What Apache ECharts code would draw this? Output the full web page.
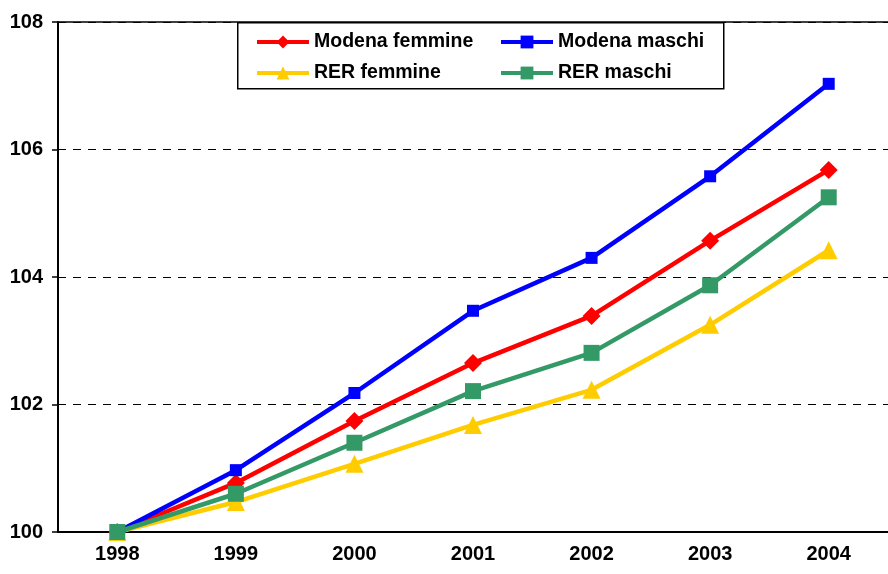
<!DOCTYPE html>
<html><head><meta charset="utf-8">
<script src="https://cdn.jsdelivr.net/npm/echarts@6/dist/echarts.min.js"></script>
<style>html,body{margin:0;padding:0;background:#fff}#c{width:888px;height:574px}</style>
</head><body><div id="c"></div>
<script>
const years = ['1998','1999','2000','2001','2002','2003','2004'];
const modenaFemmine = [100, 100.77, 101.74, 102.65, 103.39, 104.57, 105.68];
const modenaMaschi  = [100, 100.97, 102.18, 103.47, 104.30, 105.58, 107.03];
const rerFemmine    = [100, 100.47, 101.07, 101.68, 102.23, 103.25, 104.42];
const rerMaschi     = [100, 100.60, 101.40, 102.21, 102.81, 103.87, 105.25];
const yTicks = [100, 102, 104, 106, 108];

const font = 'Liberation Sans, Arial, sans-serif';
const chart = echarts.init(document.getElementById('c'));
function s(name, data, color, symbol, size) {
  return {name, type:'line', data, symbol, symbolSize:size, showSymbol:true,
    lineStyle:{color, width:4.5}, itemStyle:{color}, z: 3};
}
const legText = {fontFamily:font, fontWeight:'bold', fontSize:19.5, color:'#000'};
chart.setOption({
  animation:false,
  grid:{left:58, right:0, top:22, bottom:42},
  xAxis:[{type:'category', data:years, boundaryGap:true,
    axisLine:{lineStyle:{color:'#000', width:2}},
    axisTick:{inside:true, length:6, lineStyle:{color:'#000', width:1.5}},
    axisLabel:{color:'#000', fontFamily:font, fontWeight:'bold', fontSize:20, margin:12}},
   {type:'category', data:years, position:'top', axisLine:{show:true, lineStyle:{color:'#000', width:1.5}},
    axisTick:{show:false}, axisLabel:{show:false}}],
  yAxis:{type:'value', min:yTicks[0], max:yTicks[yTicks.length-1], interval:2,
    axisLine:{show:true, lineStyle:{color:'#000', width:2}},
    axisTick:{show:true, length:6, lineStyle:{color:'#000', width:1.5}},
    axisLabel:{color:'#000', fontFamily:font, fontWeight:'bold', fontSize:20, margin:15},
    splitLine:{show:true, lineStyle:{color:'#000', type:[8,7], width:1}}},
  legend:[{data:['Modena femmine','RER femmine'], orient:'vertical', left:250, top:27, itemGap:11,
     itemWidth:52, itemHeight:16, z:20, lineStyle:{width:4}, textStyle:legText},
    {data:['Modena maschi','RER maschi'], orient:'vertical', left:494, top:27, itemGap:11,
     itemWidth:52, itemHeight:16, z:20, lineStyle:{width:4}, textStyle:legText}],
  graphic:[{type:'rect', left:237, top:22, shape:{width:486, height:66}, style:{fill:'#fff', stroke:'#000', lineWidth:1.5}, z:1}],
  series:[
    s('Modena femmine', modenaFemmine, '#ff0000', 'diamond', 18),
    s('Modena maschi', modenaMaschi, '#0000ff', 'rect', 12),
    s('RER femmine', rerFemmine, '#ffcc00', 'triangle', 18),
    s('RER maschi', rerMaschi, '#339966', 'rect', 16)
  ]
});
</script></body></html>
